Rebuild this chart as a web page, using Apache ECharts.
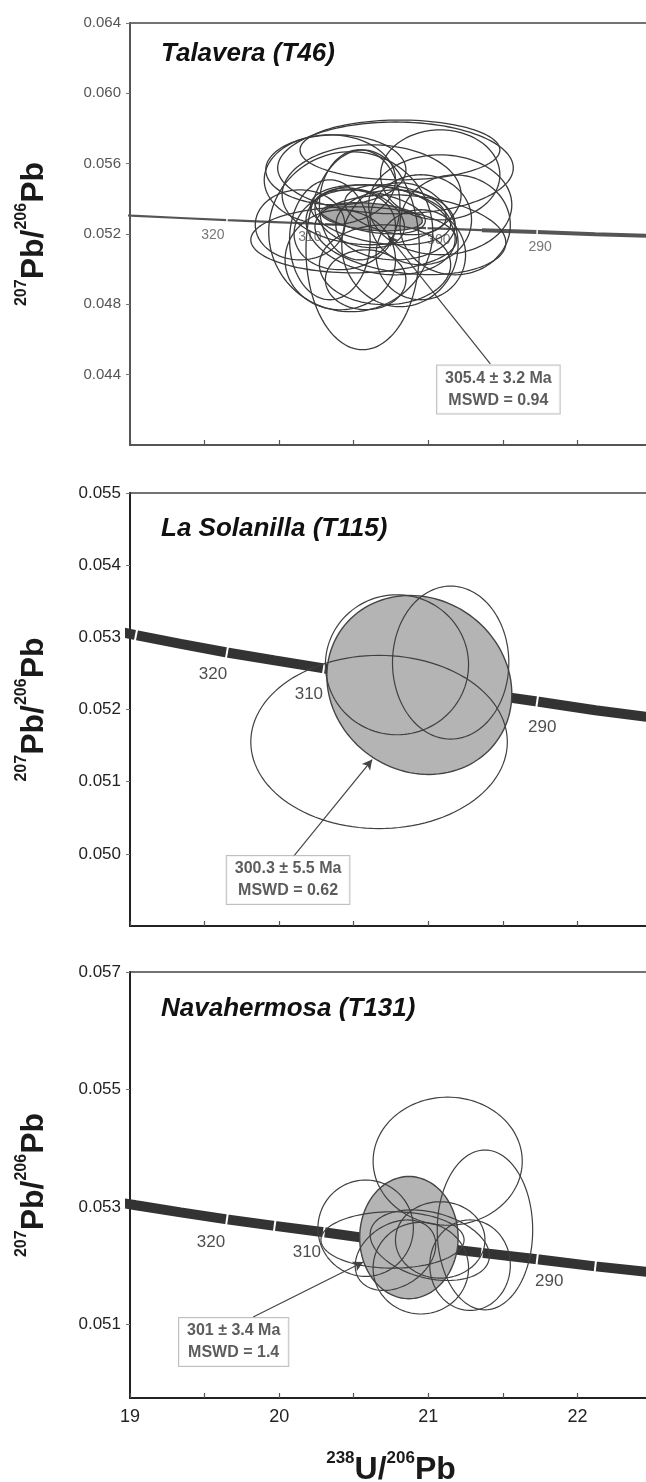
<!DOCTYPE html>
<html>
<head>
<meta charset="utf-8">
<script src="https://cdn.jsdelivr.net/npm/echarts@6/dist/echarts.min.js"></script>
<style>
  html, body { margin: 0; padding: 0; background: #fff; }
  #chart { width: 646px; height: 1482px; }
</style>
</head>
<body>
<div id="chart"></div>
<script>
// concordia curve, read at its 5 Ma marks
const concordiaAge = [335, 330, 325, 320, 315, 310, 305, 300, 295, 290, 285, 280, 275];
const concordiaX = [18.75, 19.04, 19.34, 19.65, 19.97, 20.30, 20.64, 20.99, 21.36, 21.73, 22.12, 22.53, 22.95];
const concordiaY = [0.05315, 0.05303, 0.05291, 0.05279, 0.05268, 0.05257, 0.05245, 0.05233, 0.05222, 0.05211, 0.05199, 0.05188, 0.05176];

// error ellipses: [238U/206Pb, 207Pb/206Pb, half width, half height, correlation]
const talaveraEllipses = [
  [20.78, 0.05576, 0.79, 0.00261, 0],
  [20.34, 0.05508, 0.44, 0.00256, 0],
  [20.50, 0.05167, 0.69, 0.00188, 0],
  [20.56, 0.05110, 0.38, 0.00568, 0],
  [21.08, 0.05366, 0.48, 0.00284, 0],
  [20.88, 0.05196, 0.64, 0.00227, -0.2],
  [20.48, 0.05213, 0.55, 0.00455, 0],
  [20.81, 0.05139, 0.39, 0.00352, 0],
  [20.34, 0.05167, 0.27, 0.00341, 0],
  [20.68, 0.05309, 0.47, 0.00170, -0.3],
  [20.61, 0.05326, 0.37, 0.00125, -0.4],
  [20.78, 0.05252, 0.40, 0.00199, 0],
  [20.44, 0.05224, 0.34, 0.00227, 0.1],
  [20.95, 0.05281, 0.34, 0.00256, 0],
  [20.62, 0.05423, 0.60, 0.00284, 0],
  [20.71, 0.05025, 0.44, 0.00227, 0],
  [20.14, 0.05252, 0.30, 0.00199, 0],
  [20.54, 0.05366, 0.27, 0.00313, 0],
  [20.81, 0.05678, 0.67, 0.00170, 0],
  [20.38, 0.05565, 0.47, 0.00199, 0],
  [21.08, 0.05536, 0.40, 0.00256, 0],
  [20.68, 0.05224, 0.50, 0.00256, -0.2],
  [20.54, 0.05292, 0.30, 0.00170, -0.3],
  [20.78, 0.05338, 0.34, 0.00142, -0.3],
  [20.41, 0.05053, 0.37, 0.00284, 0],
  [20.95, 0.05082, 0.30, 0.00256, 0],
  [20.58, 0.04940, 0.27, 0.00170, 0],
  [21.18, 0.05252, 0.37, 0.00284, 0]
];
const talaveraMean = [[20.62, 0.05298, 0.34, 0.00080, -0.3]];

const solanillaEllipses = [
  [20.79, 0.05262, 0.48, 0.00097, 0],
  [21.15, 0.05265, 0.39, 0.00106, 0],
  [20.67, 0.05155, 0.86, 0.00120, 0]
];
const solanillaMean = [[20.94, 0.05234, 0.62, 0.00124, -0.1]];

const navahermosaEllipses = [
  [21.13, 0.05378, 0.50, 0.00109, 0],
  [21.38, 0.05261, 0.32, 0.00136, 0],
  [20.58, 0.05264, 0.32, 0.00082, 0],
  [20.76, 0.05244, 0.48, 0.00048, 0],
  [20.95, 0.05196, 0.32, 0.00078, 0],
  [21.28, 0.05201, 0.27, 0.00077, 0],
  [21.01, 0.05235, 0.40, 0.00060, -0.3],
  [21.08, 0.05244, 0.30, 0.00065, 0],
  [20.78, 0.05218, 0.27, 0.00060, 0.3]
];
const navahermosaMean = [[20.87, 0.05248, 0.33, 0.00104, 0]];

const xTickLabels = [19, 20, 21, 22];
const navaYTicks = [0.051, 0.053, 0.055, 0.057];

const panels = [
  {
    title: 'Talavera (T46)', top: 23, height: 422,
    yMin: 0.040, yMax: 0.064, yStep: 0.004,
    ellipses: talaveraEllipses, mean: talaveraMean,
    tickAges: [320, 310, 300, 290], ageLabels: [320, 310, 300, 290],
    labelOffsets: [[-14, 15], [-14, 13], [12, 12], [3, 15]],
    result: ['305.4 ± 3.2 Ma', 'MSWD = 0.94'], box: [21.47, 0.04315],
    arrow: [[21.416, 0.04462], [20.732, 0.05190]]
  },
  {
    title: 'La Solanilla (T115)', top: 493, height: 433,
    yMin: 0.049, yMax: 0.055, yStep: 0.001,
    ellipses: solanillaEllipses, mean: solanillaMean,
    tickAges: [330, 320, 310, 300, 290, 280], ageLabels: [320, 310, 290],
    labelOffsets: [[-14, 22], [-15, 26], [5, 26]],
    result: ['300.3 ± 5.5 Ma', 'MSWD = 0.62'], box: [20.06, 0.049639],
    arrow: [[20.094, 0.049958], [20.624, 0.051306]]
  },
  {
    title: 'Navahermosa (T131)', top: 972, height: 426,
    yMin: 0.04975, yMax: 0.057, yTicks: navaYTicks,
    ellipses: navahermosaEllipses, mean: navahermosaMean,
    tickAges: [320, 315, 310, 305, 300, 295, 290, 285, 280], ageLabels: [320, 310, 290],
    labelOffsets: [[-16, 23], [-17, 20], [12, 22]],
    result: ['301 ± 3.4 Ma', 'MSWD = 1.4'], box: [19.695, 0.050702],
    arrow: [[19.826, 0.051128], [20.564, 0.052064]]
  }
];

const FONT = 'Liberation Sans, Arial, sans-serif';
const concordiaPts = concordiaX.map((x, i) => [x, concordiaY[i]]);

function ellipseRender(fill, stroke, width) {
  return function (params, api) {
    const cx = api.value(0), cy = api.value(1), sx = api.value(2), sy = api.value(3), rho = api.value(4);
    const k = Math.sqrt(1 - rho * rho);
    const pts = [];
    for (let i = 0; i < 120; i++) {
      const t = i / 120 * Math.PI * 2;
      pts.push(api.coord([cx + sx * Math.cos(t), cy + sy * (rho * Math.cos(t) + k * Math.sin(t))]));
    }
    return { type: 'polygon', shape: { points: pts }, style: { fill: fill, stroke: stroke, lineWidth: width } };
  };
}

function tickRender(half, width) {
  return function (params, api) {
    const p = api.coord([api.value(0), api.value(1)]);
    const a = api.coord([api.value(2), api.value(3)]);
    const b = api.coord([api.value(4), api.value(5)]);
    let dx = b[0] - a[0], dy = b[1] - a[1];
    const len = Math.hypot(dx, dy);
    dx /= len; dy /= len;
    const nx = -dy * half, ny = dx * half;
    return {
      type: 'line',
      shape: { x1: p[0] - nx, y1: p[1] - ny, x2: p[0] + nx, y2: p[1] + ny },
      style: { stroke: '#fff', lineWidth: width }
    };
  };
}

const nameRich = (size, sup) => ({
  main: { fontSize: size, fontWeight: 'bold', color: '#1a1a1a', fontFamily: FONT, lineHeight: size + 4, verticalAlign: 'bottom' },
  sup: { fontSize: sup, fontWeight: 'bold', color: '#1a1a1a', fontFamily: FONT, lineHeight: sup, verticalAlign: 'top' }
});

const option = {
  animation: false,
  backgroundColor: '#fff',
  textStyle: { fontFamily: FONT },
  title: [],
  grid: [],
  xAxis: [],
  yAxis: [],
  series: []
};

panels.forEach((p, i) => {
  const first = i === 0;
  const last = i === panels.length - 1;
  const axisColor = first ? '#555' : '#222';

  option.title.push({
    text: p.title, left: 156, top: [36, 511, 991][i],
    textStyle: { fontSize: 26, fontWeight: 'bold', fontStyle: 'italic', color: '#111', fontFamily: FONT }
  });

  option.grid.push({
    left: 130, top: p.top, width: 522, height: p.height,
    outerBoundsMode: 'none', containLabel: false,
    show: true, borderColor: '#444', borderWidth: 1.3, backgroundColor: 'transparent'
  });

  option.xAxis.push({
    type: 'value', gridIndex: i, min: 19, max: 22.5, interval: 0.5,
    axisLine: { show: true, onZero: false, lineStyle: { color: axisColor, width: 2 } },
    axisTick: { show: true, inside: true, length: 5, lineStyle: { color: '#555', width: 1.2 } },
    axisLabel: {
      show: last, margin: 10, fontSize: 18, color: '#222',
      customValues: xTickLabels, formatter: v => String(v)
    },
    splitLine: { show: false },
    name: last ? '{sup|238}{main|U/}{sup|206}{main|Pb}' : '',
    nameLocation: 'middle', nameGap: 52,
    nameTextStyle: { rich: nameRich(32, 17) }
  });

  const yAxis = {
    type: 'value', gridIndex: i, min: p.yMin, max: p.yMax,
    axisLine: { show: true, onZero: false, lineStyle: { color: axisColor, width: 2 } },
    axisTick: { show: true, inside: false, length: 4, lineStyle: { color: '#777', width: 1 } },
    axisLabel: {
      margin: 9, fontSize: first ? 15 : 17, color: first ? '#555' : '#222',
      showMinLabel: !!p.yTicks, formatter: v => v.toFixed(3)
    },
    splitLine: { show: false },
    name: '{sup|207}{main|Pb/}{sup|206}{main|Pb}',
    nameLocation: 'middle', nameRotate: 90, nameGap: 80,
    nameTextStyle: { rich: nameRich(32, 16) }
  };
  if (p.yTicks) {
    yAxis.axisTick.customValues = p.yTicks;
    yAxis.axisLabel.customValues = p.yTicks;
  } else {
    yAxis.interval = p.yStep;
  }
  option.yAxis.push(yAxis);

  // concordia band
  option.series.push({
    type: 'line', xAxisIndex: i, yAxisIndex: i, data: concordiaPts, z: 2,
    showSymbol: false, symbol: 'none', clip: true, silent: true,
    lineStyle: { color: first ? '#555' : '#333', width: first ? 2.2 : 10, cap: 'butt' }
  });
  if (first) {
    const k = concordiaAge.indexOf(295);
    option.series.push({
      type: 'line', xAxisIndex: i, yAxisIndex: i, data: concordiaPts.slice(k), z: 2,
      showSymbol: false, symbol: 'none', clip: true, silent: true,
      lineStyle: { color: '#555', width: 4, cap: 'butt' }
    });
  }

  // white age marks on the band
  option.series.push({
    type: 'custom', xAxisIndex: i, yAxisIndex: i, clip: true, silent: true, z: 3,
    renderItem: tickRender(first ? 3 : 7, first ? 1.5 : 2),
    encode: { x: 0, y: 1 },
    data: p.tickAges.map(a => {
      const j = concordiaAge.indexOf(a);
      return [concordiaX[j], concordiaY[j], concordiaX[j - 1], concordiaY[j - 1], concordiaX[j + 1], concordiaY[j + 1]];
    })
  });

  // age labels
  option.series.push({
    type: 'scatter', xAxisIndex: i, yAxisIndex: i, symbolSize: 0, silent: true, z: 3,
    data: p.ageLabels.map((a, k) => {
      const j = concordiaAge.indexOf(a);
      return { value: [concordiaX[j], concordiaY[j], a], label: { offset: p.labelOffsets[k] } };
    }),
    label: {
      show: true, position: 'inside', formatter: q => q.value[2],
      fontSize: first ? 14 : 17, color: first ? '#555' : '#222'
    }
  });

  // weighted mean ellipse (filled)
  option.series.push({
    type: 'custom', xAxisIndex: i, yAxisIndex: i, clip: true, silent: true, z: 4,
    renderItem: ellipseRender(first ? '#a8a8a8' : '#b4b4b4', '#444', 1.4),
    encode: { x: 0, y: 1 }, data: p.mean
  });

  // individual analyses
  option.series.push({
    type: 'custom', xAxisIndex: i, yAxisIndex: i, clip: true, silent: true, z: 5,
    renderItem: ellipseRender('none', first ? '#3a3a3a' : '#404040', first ? 1.3 : 1.2),
    encode: { x: 0, y: 1 }, data: p.ellipses
  });

  // result box with arrow
  option.series.push({
    type: 'scatter', xAxisIndex: i, yAxisIndex: i, symbolSize: 0, silent: true, z: 6,
    data: [{ value: p.box }],
    label: {
      show: true, position: 'inside',
      formatter: p.result.join('\n'),
      fontSize: 16, fontWeight: 'bold', lineHeight: 22, color: '#333',
      backgroundColor: '#fff', borderColor: '#b0b0b0', borderWidth: 1, padding: [2, 8]
    },
    markLine: {
      silent: true, symbol: ['none', 'arrow'], symbolSize: [8, 10],
      label: { show: false },
      lineStyle: { color: '#444', width: 1.2, type: 'solid' },
      data: [[{ coord: p.arrow[0] }, { coord: p.arrow[1] }]]
    }
  });
});

const chart = echarts.init(document.getElementById('chart'));
chart.setOption(option);
window.addEventListener('resize', () => chart.resize());
</script>
</body>
</html>
